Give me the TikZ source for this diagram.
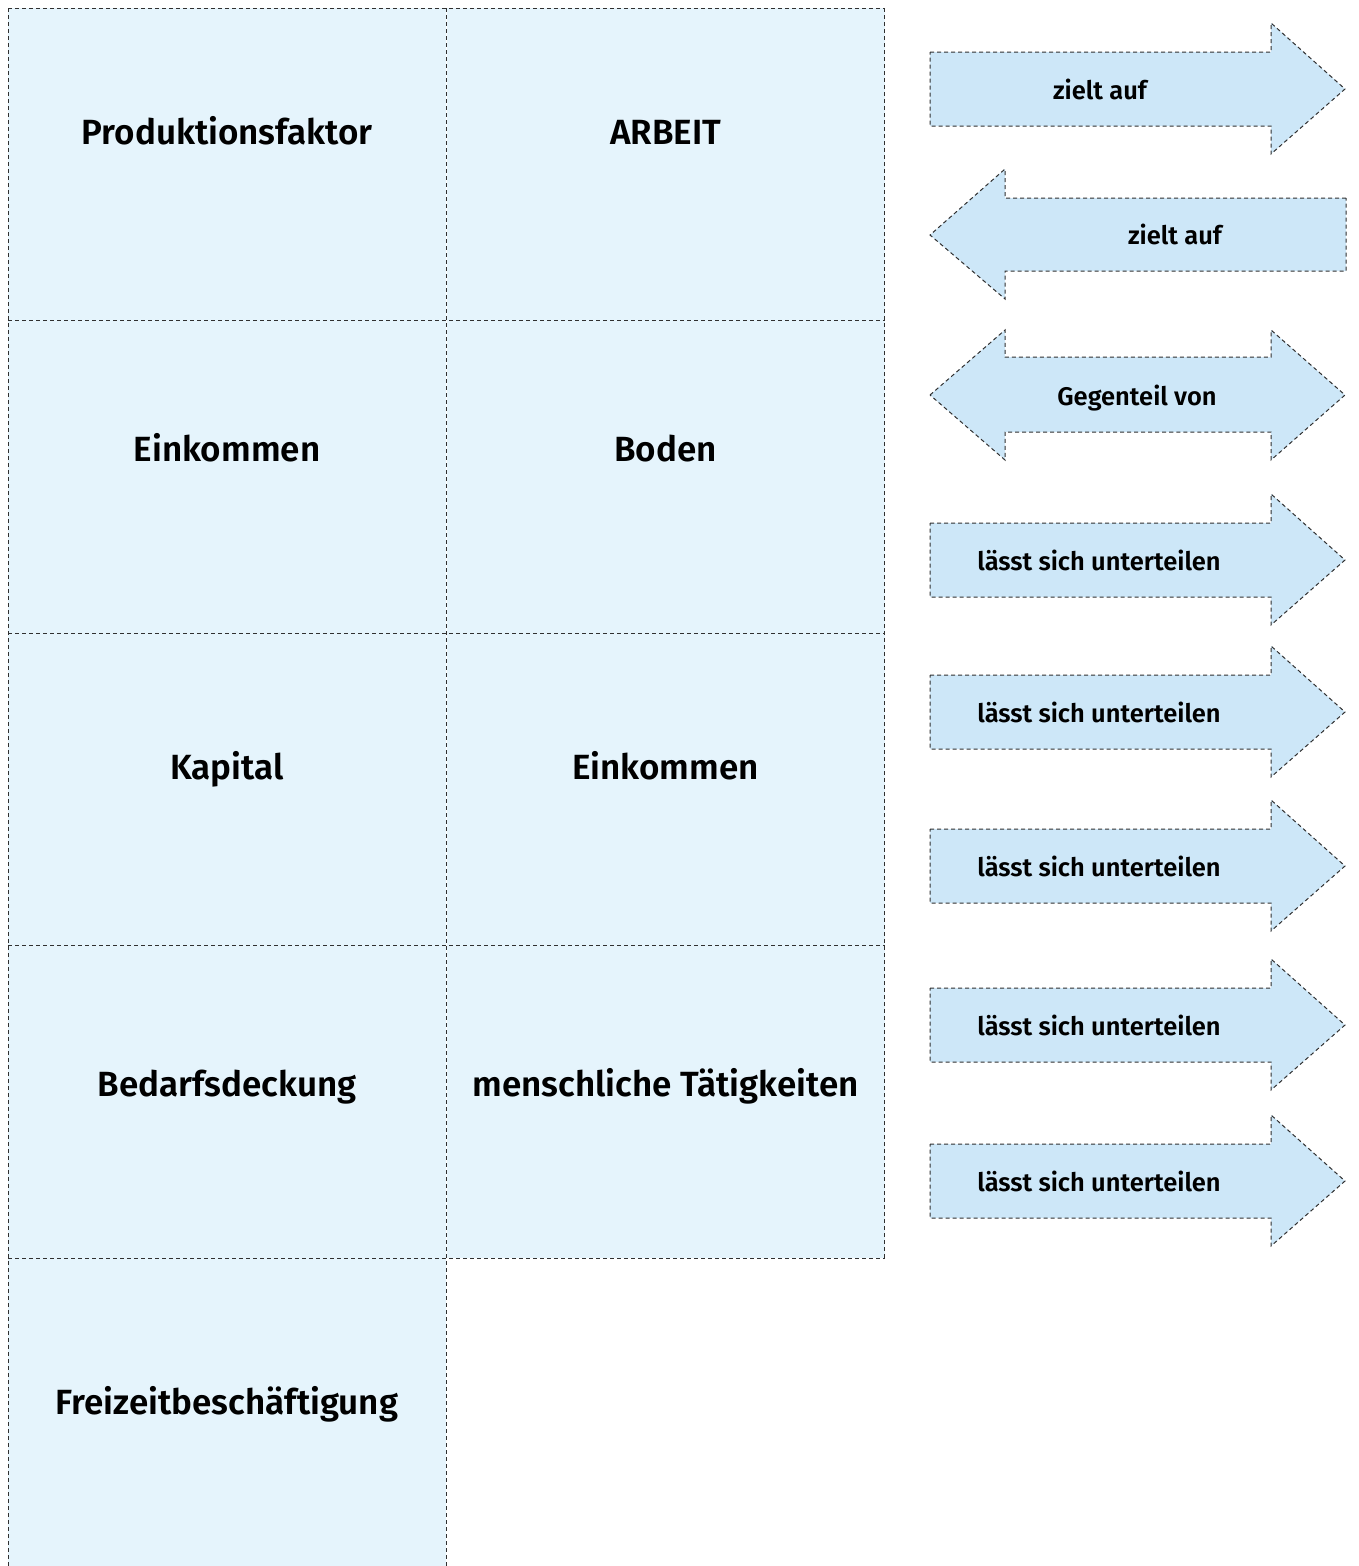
\documentclass[tikz,border=0pt]{standalone}
\usepackage{fontspec}
\setmainfont{Fira Sans}[BoldFont={Fira Sans SemiBold}]
\definecolor{cellfill}{HTML}{E5F4FC}
\definecolor{arrowfill}{HTML}{CDE7F8}
\definecolor{dashline}{HTML}{303030}
\begin{document}
\begin{tikzpicture}[x=1pt,y=-1pt,
  cell/.style={fill=cellfill, minimum width=438pt, minimum height=312.5pt,
    inner sep=0pt, outer sep=0pt},
  gridline/.style={draw=dashline, line width=1pt, dash pattern=on 4pt off 3pt},
  celltext/.style={font=\fontsize{35}{42}\selectfont\bfseries, inner sep=0pt, anchor=base},
  arrowshape/.style={draw=dashline, fill=arrowfill, line width=1pt,
    dash pattern=on 4pt off 3pt},
  arrowtext/.style={font=\fontsize{25.5}{30}\selectfont\bfseries, inner sep=0pt, anchor=base}]
\useasboundingbox (0,0) rectangle (1359,1566);
\clip (0,0) rectangle (1359,1566);

% word cards, two columns
\node[cell] (a1) at (227,164.5) {};
\node[cell] (a2) at (227,477) {};
\node[cell] (a3) at (227,789.5) {};
\node[cell] (a4) at (227,1102) {};
\node[cell] (a5) at (227,1414.5) {};
\node[cell] (b1) at (665.5,164.5) {};
\node[cell] (b2) at (665.5,477) {};
\node[cell] (b3) at (665.5,789.5) {};
\node[cell] (b4) at (665.5,1102) {};

% cutting lines, each drawn once
\draw[gridline] (a1.north west) -- (b1.north east);
\draw[gridline] (a2.north west) -- (b2.north east);
\draw[gridline] (a3.north west) -- (b3.north east);
\draw[gridline] (a4.north west) -- (b4.north east);
\draw[gridline] (a5.north west) -- (b4.south east);
\draw[gridline] (a1.north west) -- (a5.south west);
\draw[gridline] (a1.north east) -- (a5.south east);
\draw[gridline] (b1.north east) -- (b4.south east);

\node[celltext] (ta1) at (227,144) {Produktionsfaktor};
\node[celltext] (ta2) at (227,461) {Einkommen};
\node[celltext] (ta3) at (227,779) {Kapital};
\node[celltext] (ta4) at (227,1096) {Bedarfsdeckung};
\node[celltext] (ta5) at (227,1414) {Freizeitbeschäftigung};
\node[celltext] (tb1) at (665.5,144) {ARBEIT};
\node[celltext] (tb2) at (665.5,461) {Boden};
\node[celltext] (tb3) at (665.5,779) {Einkommen};
\node[celltext] (tb4) at (665.5,1096) {menschliche Tätigkeiten};

% arrow cards
% right-pointing arrow centred on y
\newcommand{\rightarrowcard}[1]{%
  \path[arrowshape] (930,#1-37) -- (1271,#1-37) -- (1271,#1-66) -- (1345,#1)
    -- (1271,#1+65) -- (1271,#1+37) -- (930,#1+37) -- cycle;}
\rightarrowcard{89}
\node[arrowtext] (r1) at (1100,99) {zielt auf};

\path[arrowshape] (1346,198) -- (1005,198) -- (1005,169) -- (930,235)
  -- (1005,299) -- (1005,271) -- (1346,271) -- cycle;
\node[arrowtext] (r2) at (1175,244) {zielt auf};

\path[arrowshape] (930,395) -- (1005,330) -- (1005,357) -- (1271,357)
  -- (1271,330) -- (1345,395) -- (1271,460) -- (1271,432) -- (1005,432)
  -- (1005,460) -- cycle;
\node[arrowtext] (r3) at (1137,405) {Gegenteil von};

\rightarrowcard{560}
\node[arrowtext] (r4) at (1099,570) {lässt sich unterteilen};
\rightarrowcard{712}
\node[arrowtext] (r5) at (1099,722) {lässt sich unterteilen};
\rightarrowcard{866}
\node[arrowtext] (r6) at (1099,876) {lässt sich unterteilen};
\rightarrowcard{1025}
\node[arrowtext] (r7) at (1099,1035) {lässt sich unterteilen};
\rightarrowcard{1181}
\node[arrowtext] (r8) at (1099,1191) {lässt sich unterteilen};
\end{tikzpicture}
\end{document}
